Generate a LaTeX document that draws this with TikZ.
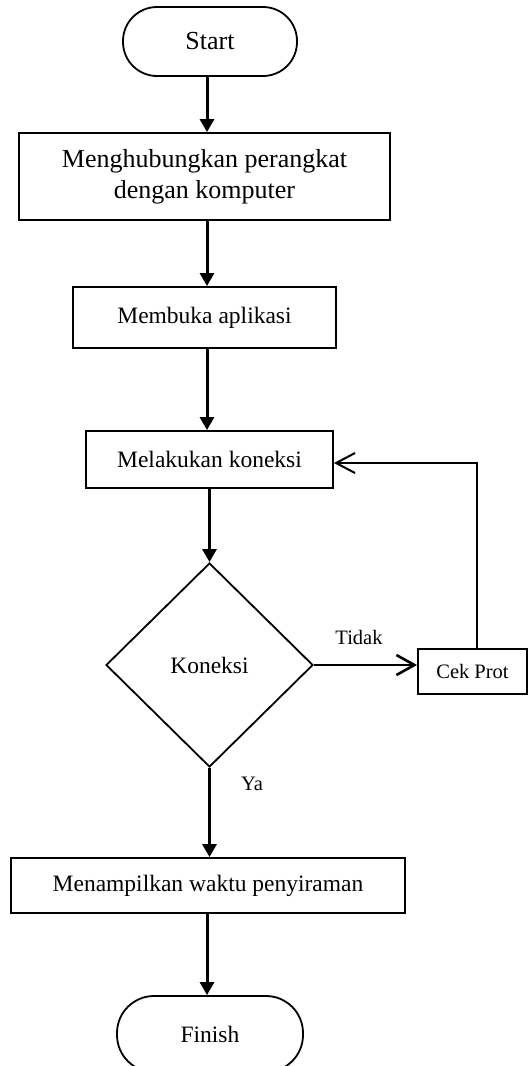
\documentclass[tikz,border=0pt]{standalone}
\usepackage{fontspec}
\setmainfont{Liberation Serif}
\usetikzlibrary{arrows.meta,shapes.geometric}
\tikzset{
  boxst/.style={draw, line width=1.8pt, rectangle, inner sep=0pt, align=center, font=\fontsize{23.5}{28}\selectfont},
  termst/.style={draw, line width=1.8pt, rectangle, inner sep=0pt, align=center},
  decst/.style={draw, line width=1.8pt, diamond, inner sep=0pt, font=\fontsize{23.5}{28}\selectfont},
  arr/.style={line width=3pt, -{Triangle[length=13pt,width=14pt]}},
  openarr/.style={line width=2.6pt, -{Straight Barb[length=18pt,width=20pt,line width=2.6pt]}},
  backarr/.style={line width=2pt, -{Straight Barb[length=19pt,width=20pt,line width=2pt]}},
  lbl/.style={font=\fontsize{20.5}{24}\selectfont, inner sep=0pt}
}
\begin{document}
\begin{tikzpicture}[x=1pt,y=-1pt]
\useasboundingbox[fill=white] (0,0) rectangle (528,1066);
\node[termst, minimum width=174pt, minimum height=69pt, rounded corners=34pt, font=\fontsize{26}{31}\selectfont] (start) at (210,41.5) {Start};
\node[boxst, minimum width=371pt, minimum height=87pt, font=\fontsize{26}{31}\selectfont] (b1) at (204.5,176.5) {Menghubungkan perangkat\\dengan komputer};
\node[boxst, minimum width=263pt, minimum height=61pt] (b2) at (204.5,317.5) {Membuka aplikasi};
\node[boxst, minimum width=247pt, minimum height=57pt] (b3) at (209.5,459.5) {Melakukan koneksi};
\node[decst, minimum width=207pt, minimum height=204pt] (d) at (209.5,665) {Koneksi};
\node[boxst, minimum width=109pt, minimum height=45pt, font=\fontsize{20.5}{24}\selectfont] (cek) at (472.5,671.5) {Cek Prot};
\node[boxst, minimum width=394pt, minimum height=55pt] (b4) at (208,885.5) {Menampilkan waktu penyiraman};
\node[termst, minimum width=186pt, minimum height=76pt, rounded corners=37pt, font=\fontsize{23.5}{28}\selectfont] (fin) at (210,1034) {Finish};
\node[lbl] (tidak) at (359,637) {Tidak};
\node[lbl] (ya) at (252,784) {Ya};
\coordinate (ax) at (207,0);
\coordinate (ay) at (0,463);
\coordinate (cx) at (477,0);
\draw[arr] (start.south -| ax) -- (b1.north -| ax);
\draw[arr] (b1.south -| ax) -- (b2.north -| ax);
\draw[arr] (b2.south -| ax) -- (b3.north -| ax);
\draw[arr] (b3.south -| d.north) -- (d.north);
\draw[arr] (d.south) -- (b4.north -| d.south);
\draw[arr] (b4.south -| ax) -- (fin.north -| ax);
\draw[openarr] (d.east) -- (d.east -| cek.west);
\draw[backarr] (cek.north -| cx) -- (ay -| cx) -- (ay -| b3.east);
\end{tikzpicture}
\end{document}
